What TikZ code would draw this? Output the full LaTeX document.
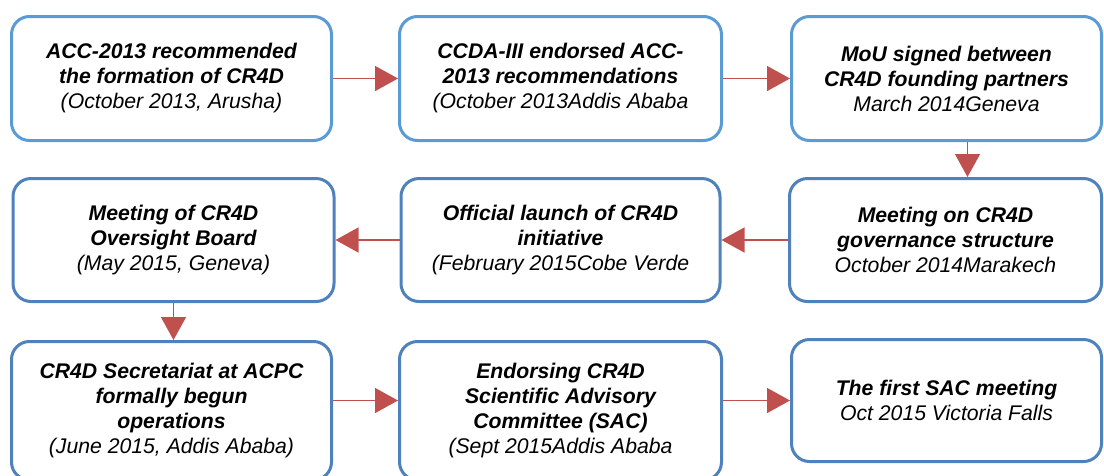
\documentclass[tikz,border=0pt]{standalone}
\usepackage{fontspec}
\setmainfont{Liberation Sans}
\usetikzlibrary{arrows.meta}
\definecolor{blueA}{HTML}{5B9BD5}
\definecolor{blueB}{HTML}{4F81BD}
\definecolor{redA}{HTML}{C0504D}
\begin{document}
\begin{tikzpicture}[x=1pt,y=-1pt,
  box/.style={draw, line width=3pt, rounded corners=18pt, fill=white, align=center,
    font=\fontsize{21.2}{25}\selectfont\itshape, inner sep=0pt},
  rowA/.style={box, draw=blueA},
  rowB/.style={box, draw=blueB},
  arr/.style={draw=redA, line width=1.5pt, -{Triangle[length=23pt,width=25pt]}}]
\path[use as bounding box] (0,0) rectangle (1104,475);
\clip (0,0) rectangle (1104,475);
% row 1
\node[rowA, minimum width=320pt, minimum height=124pt] (b1) at (171.5,78.5)
  {\textbf{ACC-2013 recommended}\\\textbf{the formation of CR4D}\\(October 2013, Arusha)};
\node[rowA, minimum width=322pt, minimum height=124pt] (b2) at (560.5,78.5)
  {\textbf{CCDA-III endorsed ACC-}\\\textbf{2013 recommendations}\\(October 2013Addis Ababa};
\node[rowA, minimum width=310pt, minimum height=124pt] (b3) at (946.5,78.5)
  {\textbf{MoU signed between}\\\textbf{CR4D founding partners}\\March 2014Geneva};
% row 2
\node[rowB, minimum width=321pt, minimum height=123pt] (b4) at (173.5,240)
  {\textbf{Meeting of CR4D}\\\textbf{Oversight Board}\\(May 2015, Geneva)};
\node[rowB, minimum width=319pt, minimum height=123pt] (b5) at (560.5,240)
  {\textbf{Official launch of CR4D}\\\textbf{initiative}\\(February 2015Cobe Verde};
\node[rowB, minimum width=312pt, minimum height=123pt] (b6) at (945.5,240)
  {\textbf{Meeting on CR4D}\\\textbf{governance structure}\\October 2014Marakech};
% row 3
\node[rowB, minimum width=320pt, minimum height=138.5pt] (b7) at (171.5,410.75)
  {\textbf{CR4D Secretariat at ACPC}\\\textbf{formally begun}\\\textbf{operations}\\(June 2015, Addis Ababa)};
\node[rowB, minimum width=322pt, minimum height=138.5pt] (b8) at (560.5,410.75)
  {\textbf{Endorsing CR4D}\\\textbf{Scientific Advisory}\\\textbf{Committee (SAC)}\\(Sept 2015Addis Ababa};
\node[rowB, minimum width=310pt, minimum height=122pt] (b9) at (946.5,400.5)
  {\textbf{The first SAC meeting}\\Oct 2015 Victoria Falls};
% connectors
\draw[arr] (b1.east) -- (b2.west);
\draw[arr] (b2.east) -- (b3.west);
\draw[arr] ([xshift=21pt]b3.south) -- ([xshift=21pt]b3.south |- b6.north);
\draw[arr] (b6.west) -- (b5.east);
\draw[arr] (b5.west) -- (b4.east);
\draw[arr] (b4.south) -- (b4.south |- b7.north);
\draw[arr] (b7.east |- b9.west) -- (b8.west |- b9.west);
\draw[arr] (b8.east |- b9.west) -- (b9.west);
\end{tikzpicture}
\end{document}
